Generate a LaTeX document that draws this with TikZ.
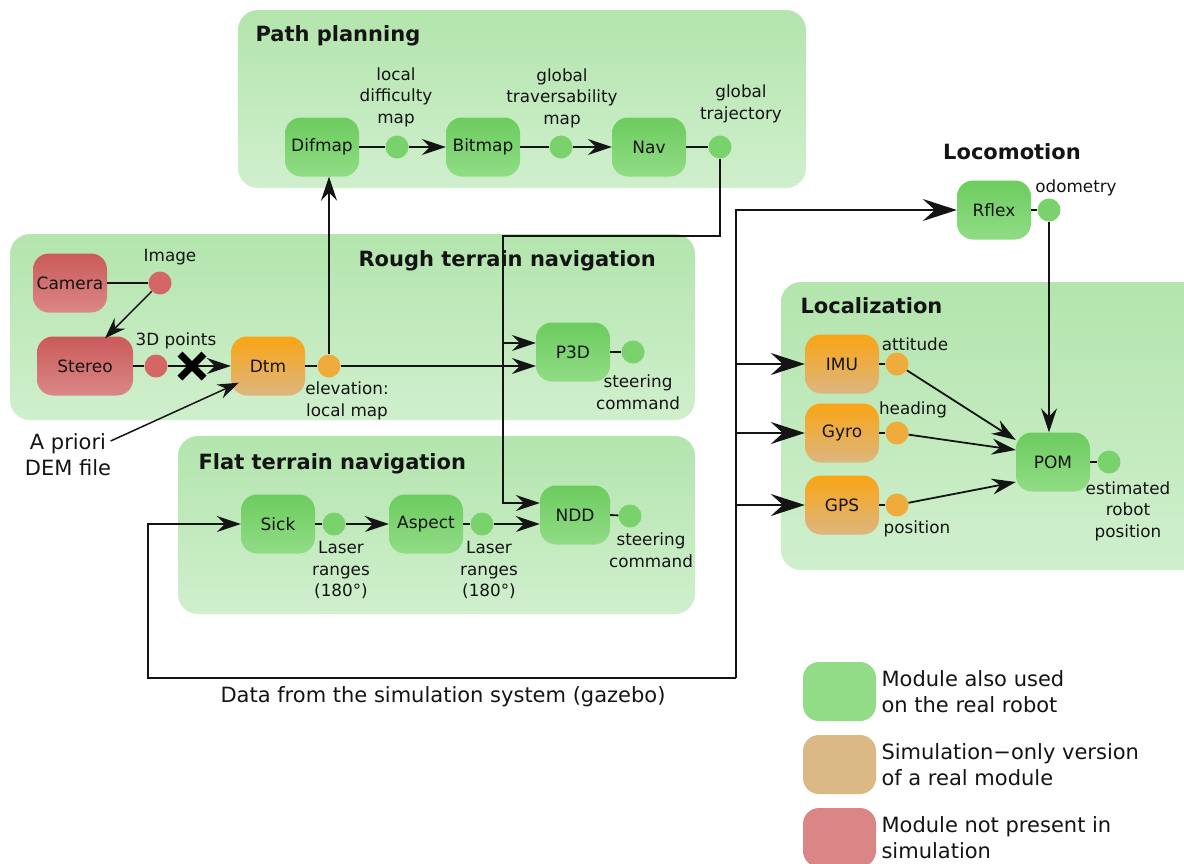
\documentclass[tikz,border=0pt]{standalone}
\usepackage{fontspec}
\setmainfont{DejaVu Sans}
\usetikzlibrary{arrows.meta}
\definecolor{grpTop}{RGB}{179,229,173}
\definecolor{grpBot}{RGB}{208,239,205}
\definecolor{gTop}{RGB}{108,204,94}
\definecolor{gBot}{RGB}{145,220,134}
\definecolor{oTop}{RGB}{250,165,20}
\definecolor{oBot}{RGB}{220,182,128}
\definecolor{rTop}{RGB}{203,90,90}
\definecolor{rBot}{RGB}{219,135,135}
\definecolor{gPort}{RGB}{122,210,108}
\definecolor{oPort}{RGB}{239,172,61}
\definecolor{rPort}{RGB}{212,102,102}
\definecolor{legG}{RGB}{146,220,136}
\definecolor{legO}{RGB}{218,185,135}
\definecolor{legR}{RGB}{218,134,134}
\definecolor{ink}{RGB}{20,20,20}
\begin{document}
\begin{tikzpicture}[x=1pt,y=-1pt,
  every node/.style={text=ink},
  group/.style={rounded corners=20pt, top color=grpTop, bottom color=grpBot, draw=none},
  title/.style={font=\fontsize{21}{24}\selectfont\bfseries},
  mod/.style={rounded corners=16pt, minimum width=74pt, minimum height=59pt, inner sep=0pt, font=\fontsize{17}{18}\selectfont},
  modG/.style={mod, top color=gTop, bottom color=gBot},
  modO/.style={mod, top color=oTop, bottom color=oBot},
  modR/.style={mod, top color=rTop, bottom color=rBot},
  port/.style={circle, minimum size=23pt, inner sep=0pt},
  portG/.style={port, fill=gPort},
  portO/.style={port, fill=oPort},
  portR/.style={port, fill=rPort},
  lbl/.style={align=center, font=\fontsize{16.8}{21.5}\selectfont},
  big/.style={align=left, font=\fontsize{21}{26}\selectfont},
  line/.style={draw=ink, line width=1.8pt},
  arr/.style={line, -{Stealth[length=24pt,width=16pt,inset=8pt]}},
  arrB/.style={line, -{Stealth[length=34pt,width=22pt,inset=12pt]}},
  arrT/.style={draw=ink, line width=1.5pt, -{Stealth[length=21pt,width=15pt,inset=7pt]}},
]
\useasboundingbox (0,0) rectangle (1184,863);
\clip (0,0) rectangle (1184,863);

% groups
\path[group] (238,10) rectangle (806,188);
\path[group] (10,234) rectangle (695,420);
\path[group] (178,436) rectangle (695,614);
\path[group] (781,282) rectangle (1214,570);

\node[title, anchor=west] (tpp) at (252,36) {Path planning};
\node[title, anchor=west] (trt) at (355,261) {Rough terrain navigation};
\node[title, anchor=west] (tft) at (195,464) {Flat terrain navigation};
\node[title, anchor=west] (tlo) at (797,306) {Localization};
\node[title] (tlc) at (1012,152) {Locomotion};

% path planning
\node[modG] (difmap) at (322,147) {Difmap};
\node[modG] (bitmap) at (483,147) {Bitmap};
\node[modG] (nav) at (649,147) {Nav};
\node[portG] (pdif) at (397,147) {};
\node[portG] (pbit) at (561,147) {};
\node[portG] (pnav) at (720,147) {};
\node[lbl] (ldif) at (396,97) {local\\difficulty\\map};
\node[lbl] (lbit) at (562,98) {global\\traversability\\map};
\node[lbl] (lnav) at (741,104) {global\\trajectory};

% rough terrain
\node[modR] (camera) at (70,283) {Camera};
\node[modR, minimum width=96pt] (stereo) at (85,366) {Stereo};
\node[modO] (dtm) at (268,366) {Dtm};
\node[modG] (p3d) at (573,352) {P3D};
\node[portR] (pimg) at (160,283) {};
\node[portR] (p3dpts) at (156,366) {};
\node[portO] (pdtm) at (329,366) {};
\node[portG] (pp3d) at (633,352) {};
\node[lbl] (limg) at (170,257) {Image};
\node[lbl] (l3d) at (176,341) {3D points};
\node[lbl] (ldtm) at (347,401) {elevation:\\local map};
\node[lbl] (lp3d) at (638,392) {steering\\command};
\node[big, align=center] (dem) at (68,455) {A priori\\DEM file};

% flat terrain
\node[modG] (sick) at (278,524) {Sick};
\node[modG] (aspect) at (426,524) {Aspect};
\node[modG, minimum width=70pt] (ndd) at (575,515) {NDD};
\node[portG] (psick) at (334,524) {};
\node[portG] (pasp) at (482,524) {};
\node[portG] (pndd) at (630,516) {};
\node[lbl] (lsick) at (341,570) {Laser\\ranges\\(180°)};
\node[lbl] (lasp) at (489,570) {Laser\\ranges\\(180°)};
\node[lbl] (lndd) at (651,550) {steering\\command};

% locomotion / localization
\node[modG] (rflex) at (994,210) {Rflex};
\node[portG] (prflex) at (1049,210) {};
\node[lbl] (lrflex) at (1076,188) {odometry};
\node[modO] (imu) at (842,364) {IMU};
\node[modO] (gyro) at (842,433) {Gyro};
\node[modO] (gps) at (842,505) {GPS};
\node[modG] (pom) at (1053,462) {POM};
\node[portO] (pimu) at (897,364) {};
\node[portO] (pgyro) at (897,433) {};
\node[portO] (pgps) at (897,505) {};
\node[portG] (ppom) at (1109,462) {};
\node[lbl] (limu) at (915,344) {attitude};
\node[lbl] (lgyro) at (913,410) {heading};
\node[lbl] (lgps) at (917,529) {position};
\node[lbl] (lpom) at (1128,511) {estimated\\robot\\position};

% connectors: path planning
\draw[line] (difmap.east) -- (pdif);
\draw[arr] (pdif) -- (bitmap.west);
\draw[line] (bitmap.east) -- (pbit);
\draw[arr] (pbit) -- (nav.west);
\draw[line] (nav.east) -- (pnav);
\coordinate (gtc) at (503,236);
\coordinate (gtb) at (503,343);
\draw[arr] (pnav.south) |- (gtc) |- ([yshift=12pt]ndd.west);
\draw[arr] (gtb) -- ([yshift=9pt]p3d.west);

% rough terrain
\draw[line] (camera.east) -- (pimg);
\draw[arrT] (pimg) -- ([xshift=20pt,yshift=-2pt]stereo.north);
\draw[line] (stereo.east) -- (p3dpts);
\draw[arr] (p3dpts) -- (dtm.west);
\draw[line width=7pt, draw=black] (180,354) -- (204,378) (204,354) -- (180,378);
\draw[line] (dtm.east) -- (pdtm);
\draw[arr] (pdtm.north) -- (pdtm.north |- difmap.south);
\draw[arr] (pdtm) -- ([yshift=-14pt]p3d.west);
\draw[arrT] ([yshift=14pt,xshift=-4pt]dem.east) -- ([xshift=8pt,yshift=13pt]dtm.south west);
\draw[line] (p3d.east) -- (pp3d);

% flat terrain
\draw[line] (sick.east) -- (psick);
\draw[arr] (psick) -- (aspect.west);
\draw[line] (aspect.east) -- (pasp);
\draw[arr] (pasp) -- (aspect.west -| ndd.west);
\draw[line] (ndd.east) -- (pndd);

% simulation data
\coordinate (simL) at (148,678);
\coordinate (simR) at (736,678);
\draw[arr] (simR) -- (simL) |- (sick.west);
\draw[arrB] (simR) |- (rflex.west);
\draw[arrB] (imu.west -| simR) -- (imu.west);
\draw[arrB] (gyro.west -| simR) -- (gyro.west);
\draw[arrB] (gps.west -| simR) -- (gps.west);
\node[big] (simtxt) at (443,697) {Data from the simulation system (gazebo)};

% localization
\draw[line] (rflex.east) -- (prflex);
\draw[arr] (prflex.south) -- (prflex.south |- pom.north);
\draw[line] (imu.east) -- (pimu);
\draw[line] (gyro.east) -- (pgyro);
\draw[line] (gps.east) -- (pgps);
\draw[arr] (pimu) -- ([yshift=22pt]pom.west);
\draw[arr] (pgyro) -- ([yshift=12pt]pom.west);
\draw[arr] (pgps) -- ([yshift=-20pt]pom.west);
\draw[line] (pom.east) -- (ppom);

% legend
\path[fill=legG, rounded corners=16pt] (803,662) rectangle (876,721);
\path[fill=legO, rounded corners=16pt] (803,735) rectangle (876,794);
\path[fill=legR, rounded corners=16pt] (803,808) rectangle (876,867);
\node[big, anchor=west] (leg1) at (878,692) {Module also used\\on the real robot};
\node[big, anchor=west] (leg2) at (878,765) {Simulation−only version\\of a real module};
\node[big, anchor=west] (leg3) at (878,838) {Module not present in\\simulation};
\end{tikzpicture}
\end{document}
